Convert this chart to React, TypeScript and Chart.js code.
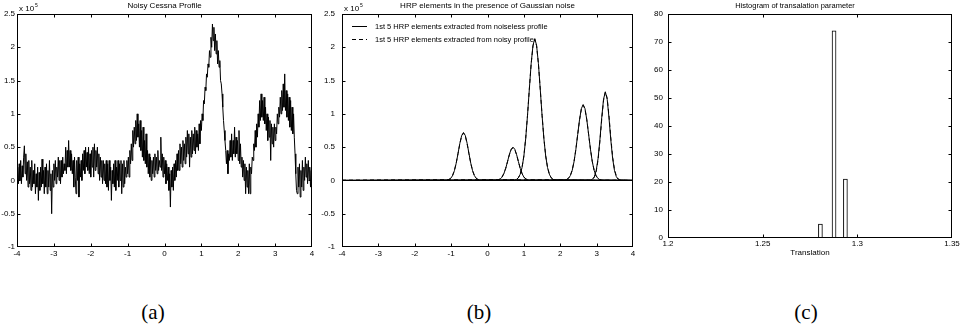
import React, { useEffect, useRef } from "react";
import { Chart, registerables } from "chart.js";
Chart.register(...registerables);

// ---------- (a) Noisy Cessna profile (values in units of 1e5), sampled every 0.02 from -4 ----------
const profileStart = -4;
const profileStep = 0.02;
const profileValues = [
  0.05, 0.2, -0.05, 0.25, 0.0, 0.3, -0.05, 0.22, 0.05, 0.35,
  0.52, 0.1, 0.4, 0.0, 0.28, -0.1, 0.3, -0.05, 0.2, -0.15,
  0.3, -0.1, 0.15, -0.05, 0.25, -0.2, 0.1, -0.1, 0.2, -0.3,
  0.12, -0.15, 0.2, -0.1, 0.32, -0.05, 0.15, -0.2, 0.2, -0.1,
  0.25, -0.2, 0.15, -0.1, 0.3, -0.15, 0.1, -0.5, 0.15, -0.1,
  0.25, 0.0, 0.3, -0.05, 0.2, 0.05, 0.35, 0.0, 0.3, -0.05,
  0.3, 0.05, 0.35, 0.1, 0.25, 0.15, 0.5, 0.1, 0.45, 0.2,
  0.6, 0.2, 0.45, 0.15, 0.4, 0.1, 0.3, -0.1, 0.35, 0.05,
  -0.2, 0.3, 0.0, 0.35, -0.25, 0.25, 0.05, 0.3, 0.0, 0.4,
  0.15, 0.45, 0.1, 0.5, 0.2, 0.42, 0.15, 0.5, 0.1, 0.4,
  0.05, 0.45, 0.2, 0.5, 0.05, 0.55, 0.15, 0.45, 0.2, 0.5,
  0.1, 0.4, 0.0, 0.35, 0.05, 0.3, -0.05, 0.3, 0.0, 0.25,
  -0.05, 0.3, -0.1, 0.25, -0.15, 0.3, 0.0, 0.2, -0.3, 0.15,
  -0.05, 0.25, -0.1, 0.3, -0.15, 0.2, 0.0, 0.3, -0.1, 0.25,
  0.0, 0.3, -0.2, 0.25, -0.1, 0.3, -0.05, 0.2, 0.05, 0.3,
  0.1, 0.35, 0.05, 0.45, 0.25, 0.55, 0.3, 0.75, 0.5, 0.8,
  0.55, 0.9, 0.6, 1.0, 0.65, 0.85, 0.5, 0.9, 0.45, 0.75,
  0.35, 0.8, 0.3, 0.6, 0.25, 0.7, 0.2, 0.45, 0.1, 0.4,
  0.05, 0.35, 0.0, 0.3, 0.1, 0.35, 0.05, 0.4, 0.15, 0.35,
  0.1, 0.45, 0.15, 0.3, 0.2, 0.65, 0.15, 0.4, 0.05, 0.35,
  0.1, 0.3, -0.05, 0.25, 0.0, 0.2, -0.15, 0.1, -0.4, 0.15,
  -0.1, 0.2, -0.15, 0.25, 0.0, 0.3, 0.05, 0.4, 0.15, 0.45,
  0.15, 0.55, 0.25, 0.5, 0.2, 0.6, 0.3, 0.55, 0.25, 0.65,
  0.35, 0.75, 0.4, 0.7, 0.2, 0.65, 0.35, 0.75, 0.4, 0.7,
  0.45, 0.8, 0.4, 0.75, 0.5, 0.7, 0.45, 0.85, 0.55, 0.9,
  0.75, 1.0, 0.9, 1.2, 1.15, 1.4, 1.35, 1.6, 1.55, 1.75,
  1.7, 1.95, 1.85, 2.15, 2.0, 2.35, 2.1, 2.3, 1.95, 2.2,
  1.9, 2.1, 1.75, 1.95, 1.7, 1.8, 1.5, 1.45, 1.3, 1.1,
  0.9, 0.75, 0.6, 0.45, 0.25, 0.45, 0.1, 0.4, 0.3, 0.6,
  0.35, 0.7, 0.3, 0.6, 0.4, 0.8, 0.35, 0.65, 0.4, 0.6,
  0.3, 0.75, 0.25, 0.55, 0.2, 0.35, 0.05, 0.3, 0.0, 0.25,
  -0.2, 0.2, -0.1, 0.15, -0.2, 0.25, -0.2, 0.2, 0.1, 0.35,
  0.3, 0.55, 0.45, 0.75, 0.5, 0.85, 0.65, 1.0, 0.8, 1.2,
  0.9, 1.3, 0.95, 1.2, 0.9, 1.25, 0.85, 1.1, 0.75, 1.0,
  0.6, 0.95, 0.65, 0.9, 0.3, 0.85, 0.55, 0.8, 0.5, 0.85,
  0.6, 0.8, 0.7, 1.0, 0.85, 1.1, 0.95, 1.25, 1.0, 1.35,
  1.05, 1.45, 1.1, 1.6, 1.05, 1.35, 0.95, 1.3, 0.9, 1.25,
  0.8, 1.2, 0.75, 1.1, 0.7, 1.0, 0.65, 0.4, 0.1, -0.15,
  -0.2, 0.2, -0.1, 0.25, -0.25, 0.15, -0.1, 0.3, -0.15, 0.2,
  0.0, 0.35, 0.05, 0.25, -0.05, 0.3, 0.0, 0.2, -0.1, 0.15,
  -0.4,
];

// ---------- (b) first 5 HRP elements ----------
const hrp1X = [-1.11, -1.06, -1.01, -0.96, -0.91, -0.86, -0.81, -0.76, -0.71, -0.66, -0.61, -0.56, -0.51, -0.46, -0.41, -0.36, -0.31, -0.26, -0.21];
const hrp1Clean = [0.004, 0.012, 0.032, 0.072, 0.146, 0.259, 0.405, 0.558, 0.675, 0.72, 0.675, 0.558, 0.405, 0.259, 0.146, 0.072, 0.032, 0.012, 0.004];
const hrp1Noisy = [0.005, 0.014, 0.035, 0.076, 0.15, 0.262, 0.405, 0.552, 0.668, 0.71, 0.666, 0.55, 0.4, 0.257, 0.146, 0.073, 0.033, 0.013, 0.005];

const hrp2X = [0.25, 0.3, 0.35, 0.4, 0.45, 0.5, 0.55, 0.6, 0.65, 0.7, 0.75, 0.8, 0.85, 0.9, 0.95, 1.0, 1.05, 1.1, 1.15];
const hrp2Clean = [0.003, 0.009, 0.022, 0.05, 0.102, 0.18, 0.282, 0.388, 0.469, 0.5, 0.469, 0.388, 0.282, 0.18, 0.102, 0.05, 0.022, 0.009, 0.003];
const hrp2Noisy = [0.004, 0.01, 0.024, 0.053, 0.105, 0.182, 0.28, 0.382, 0.46, 0.49, 0.462, 0.385, 0.282, 0.183, 0.105, 0.053, 0.024, 0.01, 0.004];

const hrp3X = [0.75, 0.8, 0.85, 0.9, 0.95, 1.0, 1.05, 1.1, 1.15, 1.2, 1.25, 1.3, 1.35, 1.4, 1.45, 1.5, 1.55, 1.6, 1.65, 1.7, 1.75, 1.8, 1.85];
const hrp3Clean = [0.006, 0.016, 0.04, 0.094, 0.194, 0.366, 0.628, 0.976, 1.372, 1.753, 2.028, 2.13, 2.028, 1.753, 1.372, 0.976, 0.628, 0.366, 0.194, 0.094, 0.04, 0.016, 0.006];
const hrp3Noisy = [0.006, 0.017, 0.042, 0.097, 0.198, 0.37, 0.632, 0.978, 1.37, 1.748, 2.02, 2.12, 2.022, 1.75, 1.372, 0.98, 0.632, 0.37, 0.197, 0.096, 0.041, 0.016, 0.006];

const hrp4X = [2.13, 2.18, 2.23, 2.28, 2.33, 2.38, 2.43, 2.48, 2.53, 2.58, 2.63, 2.68, 2.73, 2.78, 2.83, 2.88, 2.93, 2.98, 3.03, 3.08, 3.13];
const hrp4Clean = [0.005, 0.013, 0.033, 0.075, 0.154, 0.284, 0.469, 0.692, 0.912, 1.078, 1.14, 1.078, 0.912, 0.692, 0.469, 0.284, 0.154, 0.075, 0.033, 0.013, 0.005];
const hrp4Noisy = [0.006, 0.015, 0.036, 0.079, 0.158, 0.288, 0.47, 0.69, 0.905, 1.07, 1.13, 1.072, 0.91, 0.693, 0.472, 0.288, 0.158, 0.078, 0.035, 0.014, 0.005];

const hrp5X = [2.84, 2.89, 2.94, 2.99, 3.04, 3.09, 3.14, 3.19, 3.24, 3.29, 3.34, 3.39, 3.44, 3.49, 3.54, 3.59, 3.64];
const hrp5Clean = [0.005, 0.019, 0.059, 0.152, 0.331, 0.609, 0.94, 1.22, 1.33, 1.22, 0.94, 0.609, 0.331, 0.152, 0.059, 0.019, 0.005];
const hrp5Noisy = [0.004, 0.016, 0.052, 0.138, 0.31, 0.585, 0.915, 1.2, 1.33, 1.24, 0.97, 0.64, 0.355, 0.168, 0.068, 0.023, 0.007];

const legendLabels = [
  "1st 5 HRP elements extracted from noiseless profile",
  "1st 5 HRP elements extracted from noisy profile",
];

// ---------- (c) histogram ----------
const histCenters = [1.2805, 1.2877, 1.2937];
const histCounts = [5, 74, 21];

const titles = [
  "Noisy Cessna Profile",
  "HRP elements in the presence of Gaussian noise",
  "Histogram of transalation parameter",
];
const captions = ["(a)", "(b)", "(c)"];

const SANS = "'Liberation Sans', Arial, Helvetica, sans-serif";

const matlabPlugin = {
  id: "matlab",
  afterDraw(chart: any, _args: any, opts: any) {
    const { ctx, chartArea: a } = chart;
    const xs = chart.scales.x;
    const ys = chart.scales.y;
    ctx.save();
    ctx.strokeStyle = "#000";
    ctx.fillStyle = "#000";
    ctx.lineWidth = 1;
    ctx.setLineDash([]);
    const L = Math.round(a.left) + 0.5;
    const R = Math.round(a.right) - 0.5;
    const T = Math.round(a.top) + 0.5;
    const B = Math.round(a.bottom) - 0.5;
    ctx.strokeRect(L, T, R - L, B - T);
    const tl = 3;
    const clamp = (v: number, lo: number, hi: number) => Math.min(hi, Math.max(lo, v));
    ctx.beginPath();
    xs.ticks.forEach((t: any) => {
      const p = clamp(Math.round(xs.getPixelForValue(t.value)) + 0.5, L, R);
      ctx.moveTo(p, B);
      ctx.lineTo(p, B - tl);
      ctx.moveTo(p, T);
      ctx.lineTo(p, T + tl);
    });
    ys.ticks.forEach((t: any) => {
      const p = clamp(Math.round(ys.getPixelForValue(t.value)) + 0.5, T, B);
      ctx.moveTo(L, p);
      ctx.lineTo(L + tl, p);
      ctx.moveTo(R, p);
      ctx.lineTo(R - tl, p);
    });
    ctx.stroke();

    // title
    ctx.font = `${opts.titleSize || 8}px ${SANS}`;
    ctx.textAlign = "center";
    ctx.textBaseline = "middle";
    ctx.fillText(opts.title, opts.titleX ?? (a.left + a.right) / 2, opts.titleY ?? 6);

    // exponent
    if (opts.exponent) {
      ctx.textAlign = "left";
      ctx.textBaseline = "alphabetic";
      ctx.font = `8px ${SANS}`;
      const base = "x 10";
      const x0 = a.left + 2;
      ctx.fillText(base, x0, 11);
      const w = ctx.measureText(base).width;
      ctx.font = `5px ${SANS}`;
      ctx.fillText(opts.exponent, x0 + w + 1, 7);
    }

    // x label
    if (opts.xlabel) {
      ctx.font = `8px ${SANS}`;
      ctx.textAlign = "center";
      ctx.textBaseline = "middle";
      ctx.fillText(opts.xlabel, (a.left + a.right) / 2, opts.xlabelY);
    }

    // legend
    if (opts.legend) {
      ctx.font = `7.5px ${SANS}`;
      ctx.textAlign = "left";
      ctx.textBaseline = "middle";
      opts.legend.forEach((item: any, i: number) => {
        const y = Math.round(a.top + 12 + i * 13) + 0.5;
        ctx.setLineDash(item.dash);
        ctx.beginPath();
        ctx.moveTo(a.left + 10, y);
        ctx.lineTo(a.left + 25, y);
        ctx.stroke();
        ctx.setLineDash([]);
        ctx.fillText(item.label, a.left + 33, y);
      });
    }
    ctx.restore();
  },
};

function axisCommon(extra: any) {
  return {
    type: "linear",
    grid: { display: false, drawTicks: false },
    border: { display: false },
    ...extra,
    ticks: {
      color: "#000",
      font: { family: SANS, size: 8 },
      maxRotation: 0,
      autoSkip: false,
      callback: (v: any) => String(Math.round(Number(v) * 1000) / 1000),
      ...(extra.ticks || {}),
    },
  };
}

function configA() {
  return {
    type: "line",
    data: {
      datasets: [
        {
          data: profileValues.map((v, i) => ({ x: profileStart + i * profileStep, y: v })),
          borderColor: "#000",
          borderWidth: 1,
          pointRadius: 0,
          tension: 0,
        },
      ],
    },
    options: {
      responsive: false,
      animation: false,
      devicePixelRatio: 1,
      layout: { padding: { top: 14, right: 18, left: 0, bottom: 0 } },
      plugins: {
        legend: { display: false },
        tooltip: { enabled: false },
        matlab: { title: titles[0], exponent: "5" },
      },
      scales: {
        x: axisCommon({ min: -4, max: 4, ticks: { stepSize: 1, padding: 2 }, afterFit: (s: any) => { s.height = 18; } }),
        y: axisCommon({ min: -1, max: 2.5, ticks: { stepSize: 0.5, padding: 2 }, afterFit: (s: any) => { s.width = 17; } }),
      },
    },
    plugins: [matlabPlugin],
  };
}

function configB() {
  const elems = [
    [hrp1X, hrp1Clean, hrp1Noisy],
    [hrp2X, hrp2Clean, hrp2Noisy],
    [hrp3X, hrp3Clean, hrp3Noisy],
    [hrp4X, hrp4Clean, hrp4Noisy],
    [hrp5X, hrp5Clean, hrp5Noisy],
  ];
  const toPts = (xs: number[], ys: number[]) => [
    { x: -4, y: 0 },
    ...xs.map((x, i) => ({ x, y: ys[i] })),
    { x: 4, y: 0 },
  ];
  const datasets: any[] = [];
  elems.forEach(([xs, , noisy]) => {
    datasets.push({
      data: toPts(xs as number[], noisy as number[]),
      borderColor: "#000",
      borderWidth: 1,
      borderDash: [4, 3],
      pointRadius: 0,
      tension: 0,
    });
  });
  elems.forEach(([xs, clean]) => {
    datasets.push({
      data: toPts(xs as number[], clean as number[]),
      borderColor: "#000",
      borderWidth: 1,
      pointRadius: 0,
      tension: 0,
    });
  });
  return {
    type: "line",
    data: { datasets },
    options: {
      responsive: false,
      animation: false,
      devicePixelRatio: 1,
      layout: { padding: { top: 14, right: 17, left: 0, bottom: 0 } },
      plugins: {
        legend: { display: false },
        tooltip: { enabled: false },
        matlab: {
          title: titles[1],
          exponent: "5",
          legend: [
            { label: legendLabels[0], dash: [] },
            { label: legendLabels[1], dash: [4, 3] },
          ],
        },
      },
      scales: {
        x: axisCommon({ min: -4, max: 4, ticks: { stepSize: 1, padding: 2 }, afterFit: (s: any) => { s.height = 18; } }),
        y: axisCommon({ min: -1, max: 2.5, ticks: { stepSize: 0.5, padding: 7 }, afterFit: (s: any) => { s.width = 22; } }),
      },
    },
    plugins: [matlabPlugin],
  };
}

function configC() {
  return {
    type: "bar",
    data: {
      datasets: [
        {
          data: histCenters.map((x, i) => ({ x, y: histCounts[i] })),
          backgroundColor: "#fff",
          borderColor: "#000",
          borderWidth: 1,
          barThickness: 4,
        },
      ],
    },
    options: {
      responsive: false,
      animation: false,
      devicePixelRatio: 1,
      layout: { padding: { top: 14, right: 23, left: 0, bottom: 0 } },
      plugins: {
        legend: { display: false },
        tooltip: { enabled: false },
        matlab: { title: titles[2], titleX: 155, titleSize: 7.5, xlabel: "Translation", xlabelY: 253 },
      },
      scales: {
        x: axisCommon({
          min: 1.2,
          max: 1.35,
          offset: false,
          ticks: { stepSize: 0.05, padding: 1 },
          afterFit: (s: any) => { s.height = 27; },
        }),
        y: axisCommon({ min: 0, max: 80, ticks: { stepSize: 10, padding: 5 }, afterFit: (s: any) => { s.width = 28; } }),
      },
    },
    plugins: [matlabPlugin],
  };
}

function ChartBox({ make, left, width, height }: { make: () => any; left: number; width: number; height: number }) {
  const ref = useRef<HTMLCanvasElement>(null);
  useEffect(() => {
    const chart = new Chart(ref.current as HTMLCanvasElement, make());
    return () => chart.destroy();
  }, []);
  return (
    <canvas
      ref={ref}
      width={width}
      height={height}
      style={{ position: "absolute", left, top: 0, width, height }}
    />
  );
}

const captionX = [153, 479, 806];

export default function App() {
  return (
    <div
      style={{
        position: "fixed",
        left: 0,
        top: 0,
        width: 975,
        height: 330,
        background: "#fff",
        overflow: "hidden",
      }}
    >
      <ChartBox make={configA} left={0} width={330} height={265} />
      <ChartBox make={configB} left={320} width={330} height={265} />
      <ChartBox make={configC} left={640} width={335} height={265} />
      {captions.map((c, i) => (
        <div
          key={c}
          style={{
            position: "absolute",
            left: captionX[i],
            top: 300,
            transform: "translateX(-50%)",
            fontFamily: "'Liberation Serif', 'DejaVu Serif', serif",
            fontSize: 21,
            lineHeight: "24px",
            color: "#000",
          }}
        >
          {c}
        </div>
      ))}
    </div>
  );
}
